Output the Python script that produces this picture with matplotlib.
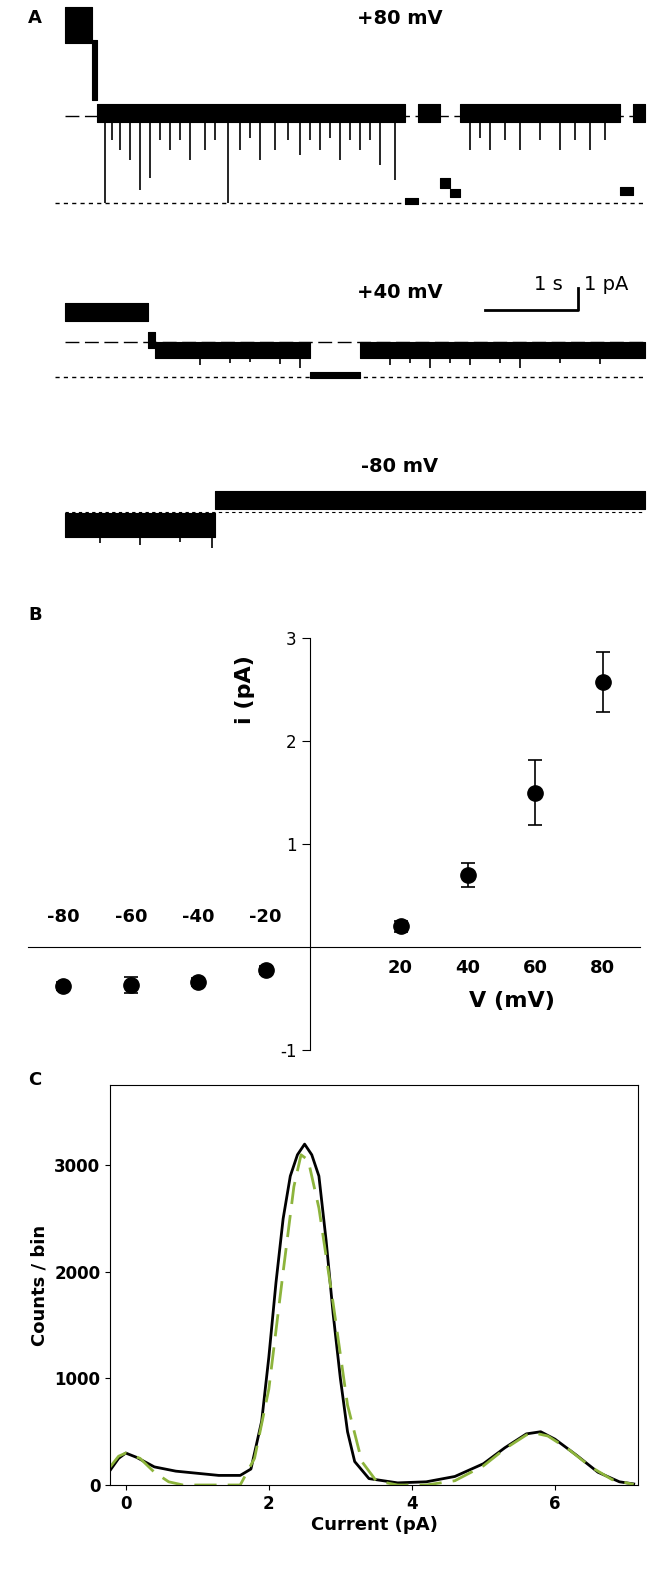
import matplotlib
matplotlib.use("Agg")
import matplotlib.pyplot as plt
import numpy as np

plt.rcParams["axes.unicode_minus"] = False

# ---------- Panel A: trace segments (x_start, x_end, level, noise half-width) in trace units
tr80_segments = [(65, 92, 25, 18), (92, 97, 70, 30), (97, 405, 113, 9), (405, 418, 201, 3),
                 (418, 440, 113, 9), (440, 450, 183, 5), (450, 460, 193, 4), (460, 620, 113, 9),
                 (620, 633, 191, 4), (633, 645, 113, 9)]
tr80_spikes = [(105, 203), (112, 140), (120, 150), (130, 160), (140, 190), (150, 178), (160, 140),
               (170, 150), (180, 140), (190, 160), (205, 150), (215, 140), (228, 203), (240, 150),
               (250, 138), (260, 160), (275, 150), (288, 140), (300, 155), (310, 140), (320, 150),
               (330, 138), (340, 160), (350, 140), (360, 150), (370, 140), (380, 165), (395, 180),
               (470, 150), (480, 138), (490, 150), (505, 140), (520, 150), (540, 140), (560, 150),
               (575, 140), (590, 150), (605, 140)]
tr40_segments = [(65, 148, 312, 9), (148, 155, 340, 8), (155, 310, 350, 8), (310, 360, 375, 3),
                 (360, 645, 350, 8)]
tr40_spikes = [(200, 365), (230, 363), (250, 362), (280, 364), (300, 368), (390, 365), (410, 363),
               (430, 368), (450, 363), (470, 365), (500, 363), (520, 368), (560, 363), (600, 364)]
trm80_segments = [(65, 215, 525, 12), (215, 645, 500, 9)]
trm80_spikes = [(100, 543), (140, 545), (180, 542), (212, 548)]

# ---------- Panel B: I-V
V = [-80, -60, -40, -20, 20, 40, 60, 80]
I = [-0.38, -0.37, -0.34, -0.22, 0.2, 0.7, 1.5, 2.57]
I_err = [0.04, 0.08, 0.04, 0.04, 0.05, 0.12, 0.32, 0.29]

# ---------- Panel C: histogram and fit
hist_x = [-0.6, -0.3, -0.1, 0, 0.15, 0.4, 0.7, 1.0, 1.3, 1.6, 1.75, 1.9, 2.0, 2.1, 2.2, 2.3, 2.4,
          2.5, 2.6, 2.7, 2.8, 2.9, 3.0, 3.1, 3.2, 3.4, 3.8, 4.2, 4.6, 5.0, 5.3, 5.6, 5.8, 6.0,
          6.3, 6.6, 6.9, 7.1]
hist_y = [0, 60, 250, 300, 260, 170, 130, 110, 90, 90, 150, 600, 1200, 1900, 2500, 2900, 3100,
          3200, 3100, 2900, 2300, 1600, 1000, 500, 220, 60, 20, 30, 80, 200, 350, 480, 500, 430,
          280, 120, 30, 10]
fit_x = [-0.6, -0.3, -0.1, 0, 0.2, 0.4, 0.6, 0.8, 1.6, 1.8, 2.0, 2.2, 2.35, 2.45, 2.55, 2.7, 2.9,
         3.1, 3.3, 3.5, 3.8, 4.2, 4.6, 5.0, 5.3, 5.6, 5.7, 5.9, 6.2, 6.5, 6.8, 7.1]
fit_y = [0, 100, 270, 300, 250, 120, 30, 0, 0, 250, 900, 2000, 2800, 3100, 3050, 2600, 1700,
         750, 220, 40, 0, 0, 40, 180, 340, 470, 490, 460, 330, 170, 50, 5]

W, H = 664, 1596
fig = plt.figure(figsize=(W / 100, H / 100), dpi=100)

def fr(x0, y0, x1, y1):
    return [x0 / W, 1 - y1 / H, (x1 - x0) / W, (y1 - y0) / H]

# Panel A
axA = fig.add_axes(fr(0, 0, W, 560))
axA.set_xlim(0, W); axA.set_ylim(560, 0); axA.axis("off")

def draw_trace(segs, spikes, base):
    for x0, x1, lv, hw in segs:
        axA.fill_between([x0, x1], lv - hw, lv + hw, color="black", lw=0.8)
    for x, d in spikes:
        axA.vlines(x, base, d, color="black", lw=1.2)

draw_trace(tr80_segments, tr80_spikes, 113)
draw_trace(tr40_segments, tr40_spikes, 350)
draw_trace(trm80_segments, trm80_spikes, 525)
axA.plot([65, 645], [116, 116], color="black", lw=1, dashes=(10, 4))
axA.plot([55, 645], [203, 203], color="black", lw=1, dashes=(3, 3))
axA.plot([65, 645], [342, 342], color="black", lw=1, dashes=(10, 4))
axA.plot([55, 645], [377, 377], color="black", lw=1, dashes=(3, 3))
axA.plot([65, 645], [512, 512], color="black", lw=0.8, dashes=(3, 3))
axA.plot([485, 578, 578], [310, 310, 288], color="black", lw=2)
axA.text(548, 294, "1 s", fontsize=14, ha="center", va="bottom")
axA.text(584, 294, "1 pA", fontsize=14, ha="left", va="bottom")
for y, s in [(18, "+80 mV"), (292, "+40 mV"), (467, "-80 mV")]:
    axA.text(400, y, s, fontsize=14, fontweight="bold", ha="center", va="center")

# Panel B
axB = fig.add_axes(fr(28, 638, 640, 1050))
axB.set_xlim(-90.5, 91)
axB.set_ylim(-1, 3)
axB.errorbar(V, I, yerr=I_err, fmt="o", color="black", ms=11, capsize=5, elinewidth=1.2, capthick=1.2)
for s in ["top", "right"]:
    axB.spines[s].set_visible(False)
axB.spines["left"].set_position(("data", -7))
axB.spines["bottom"].set_position(("data", 0))
axB.set_xticks([-80, -60, -40, -20, 20, 40, 60, 80])
axB.set_xticklabels([])
axB.set_yticks([-1, 1, 2, 3])
axB.tick_params(axis="y", labelsize=12, length=6)
axB.tick_params(axis="x", length=0)
for v in [-80, -60, -40, -20]:
    axB.text(v, 0.2, str(v), fontsize=13, fontweight="bold", ha="center", va="bottom")
for v in [20, 40, 60, 80]:
    axB.text(v, -0.12, str(v), fontsize=13, fontweight="bold", ha="center", va="top")
axB.text(-26, 2.5, "i (pA)", fontsize=16, fontweight="bold", rotation=90, ha="center", va="center")
axB.text(53, -0.52, "V (mV)", fontsize=16, fontweight="bold", ha="center", va="center")

# Panel C
axC = fig.add_axes(fr(110, 1085, 638, 1485))
axC.plot(hist_x, hist_y, color="black", lw=2)
axC.plot(fit_x, fit_y, color="#8db43c", lw=2, dashes=(8, 4))
axC.set_xlim(-0.22, 7.16)
axC.set_ylim(0, 3755)
axC.set_xticks([0, 2, 4, 6]); axC.set_yticks([0, 1000, 2000, 3000])
axC.tick_params(labelsize=12)
for lab in axC.get_xticklabels() + axC.get_yticklabels():
    lab.set_fontweight("bold")
axC.set_xlabel("Current (pA)", fontsize=13, fontweight="bold", labelpad=2)
axC.set_ylabel("Counts / bin", fontsize=13, fontweight="bold")

for y, s in [(18, "A"), (615, "B"), (1080, "C")]:
    fig.text(35 / W, 1 - y / H, s, fontsize=13, fontweight="bold", ha="center", va="center")

fig.savefig("out.png", dpi=100)
